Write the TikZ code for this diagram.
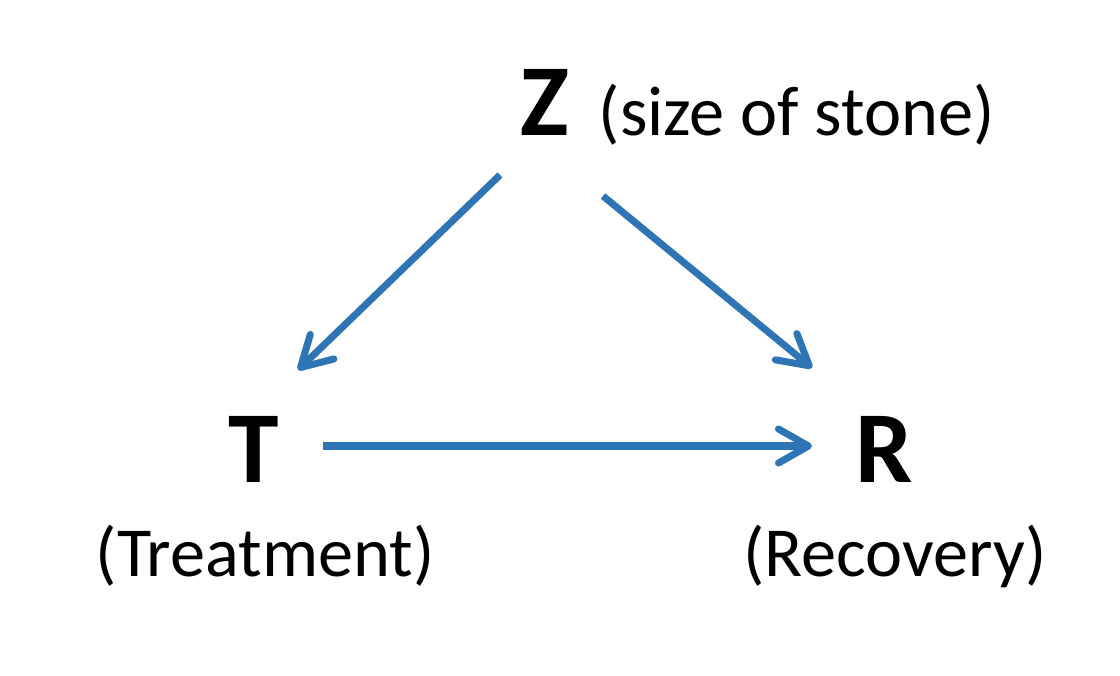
\documentclass[tikz,border=0pt]{standalone}
\usepackage{fontspec}
\setmainfont{Carlito}
\usetikzlibrary{arrows.meta}
\definecolor{arrowblue}{HTML}{2E75B6}
\begin{document}
\begin{tikzpicture}[
    myvar/.style={font=\fontsize{29}{34}\selectfont\bfseries, inner sep=0pt, anchor=base},
    mylabel/.style={font=\fontsize{20}{24}\selectfont, inner sep=0pt, anchor=base},
    myarrow/.style={-{Straight Barb[length=3mm,width=3.4mm,round]}, line width=2pt, arrowblue}
]
    \useasboundingbox (0, 0) rectangle (11.2, 6.76);

    % Variables
    \node[myvar] (Z) at (5.45, 5.40) {Z};
    \node[myvar] (T) at (2.54, 1.93) {T};
    \node[myvar] (R) at (8.84, 1.93) {R};

    % Descriptions
    \node[mylabel, anchor=base west] (Zlab) at (5.98, 5.40) {(size of stone)};
    \node[mylabel] (Tlab) at (2.65, 0.99) {(Treatment)};
    \node[mylabel] (Rlab) at (8.95, 0.99) {(Recovery)};

    % Causal arrows
    \draw[myarrow] ([shift={(-0.45,-0.39)}]Z.base) -- ([shift={(0.44,1.13)}]T.base);
    \draw[myarrow] ([shift={(0.58,-0.60)}]Z.base) -- ([shift={(-0.72,1.15)}]R.base);
    \draw[myarrow] ([shift={(0.69,0.37)}]T.base) -- ([shift={(-0.72,0.37)}]R.base);
\end{tikzpicture}
\end{document}
